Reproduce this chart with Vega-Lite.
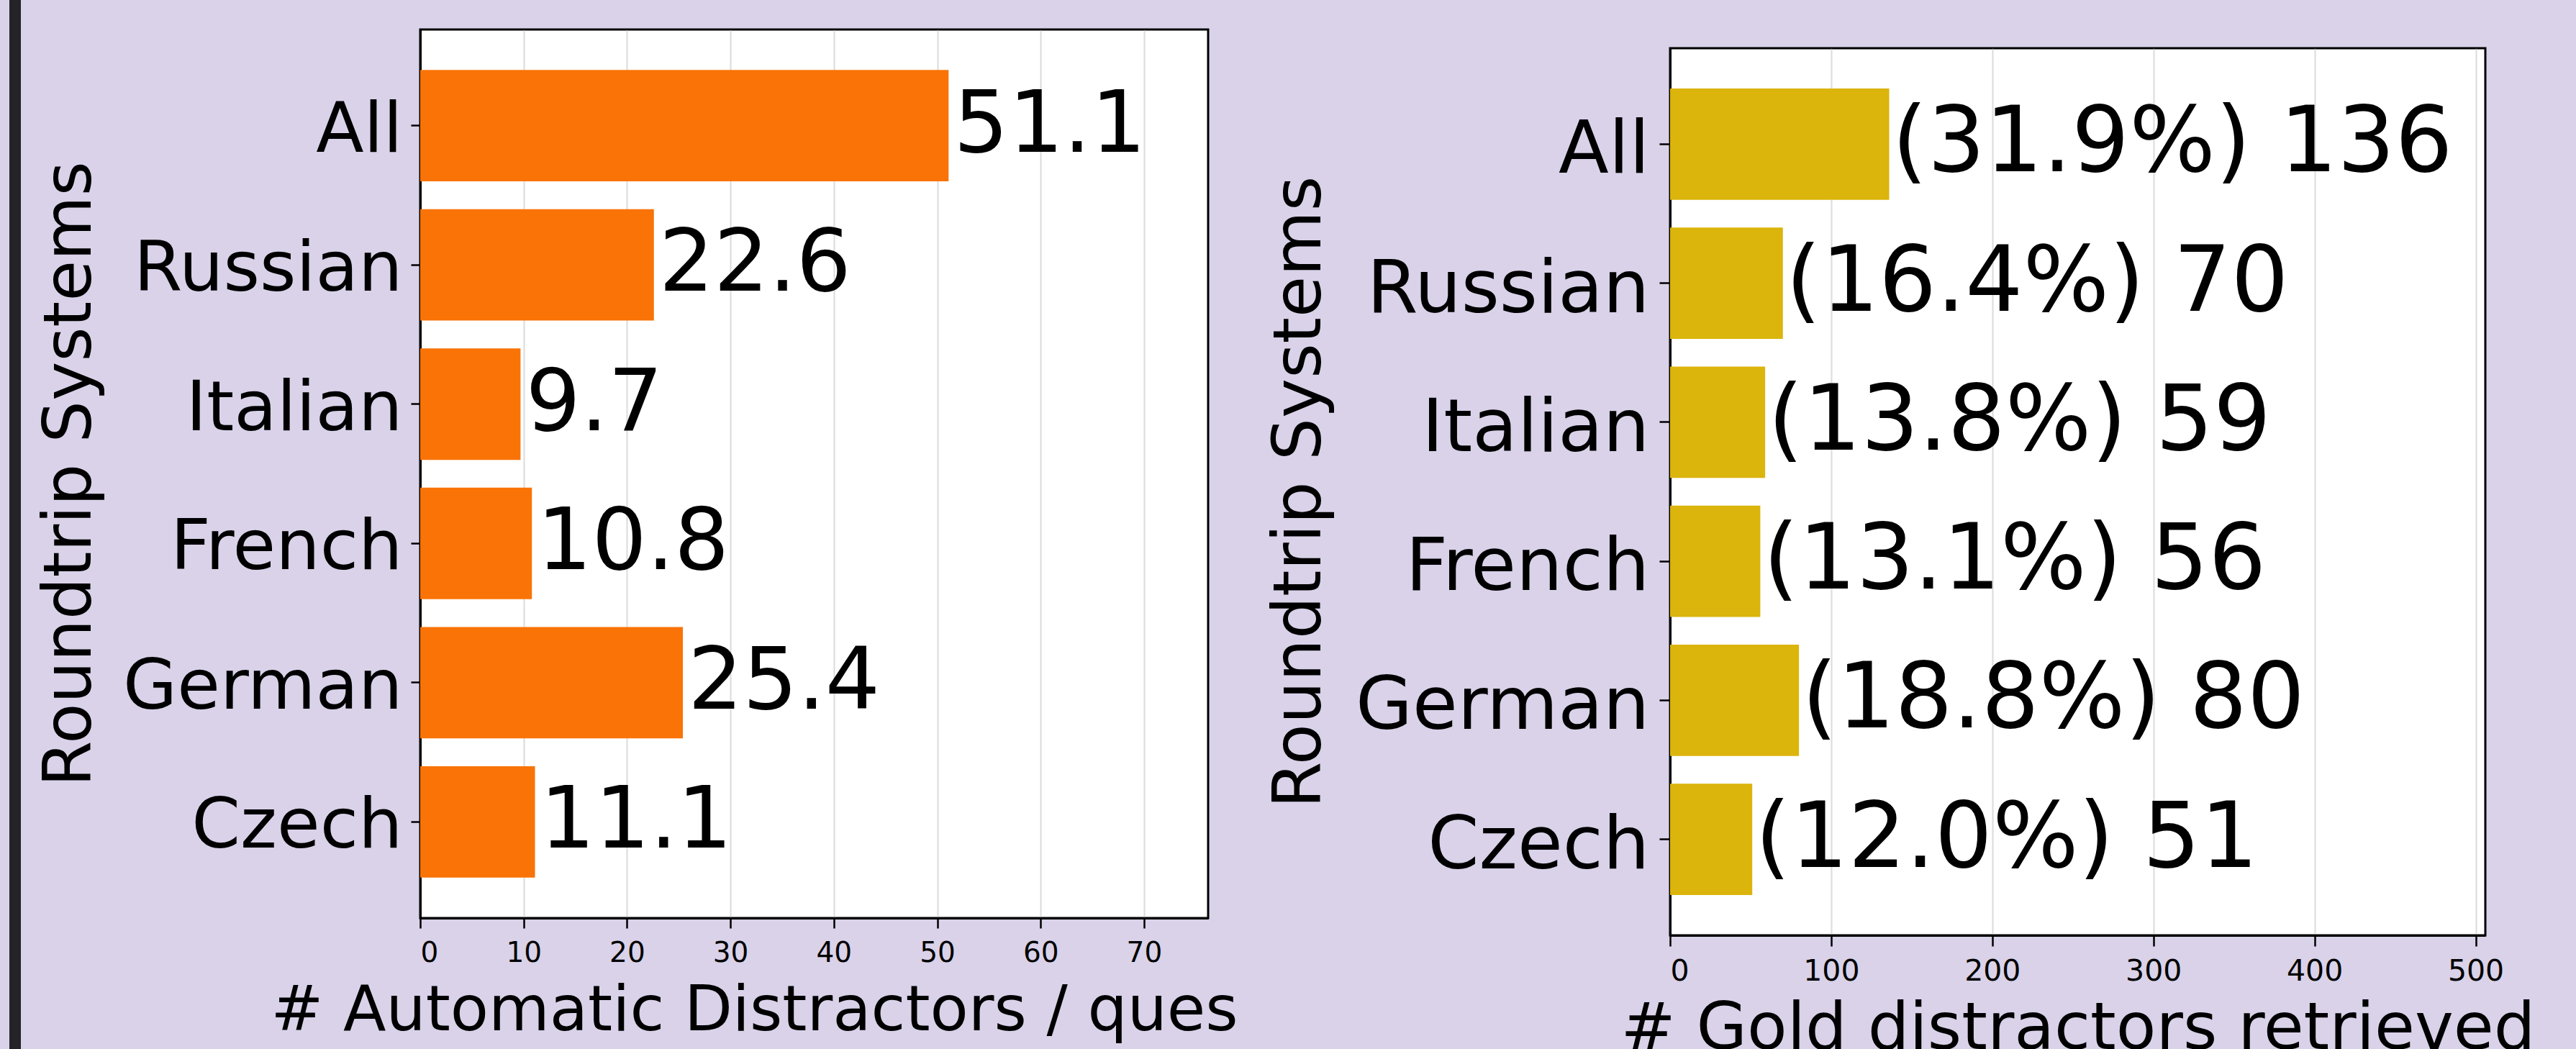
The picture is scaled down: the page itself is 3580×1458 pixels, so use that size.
{
  "$schema": "https://vega.github.io/schema/vega-lite/v6.json",
  "background": "#D9D2E9",
  "padding": {"left": 13, "top": 0, "right": 140, "bottom": 0},
  "spacing": 20,
  "config": {
    "font": "DejaVu Sans",
    "axis": {
      "labelFont": "DejaVu Sans",
      "titleFont": "DejaVu Sans",
      "labelColor": "black",
      "titleColor": "black",
      "titleFontWeight": "normal",
      "tickColor": "black",
      "tickWidth": 2.5,
      "domainColor": "black",
      "domainWidth": 3,
      "labelLimit": 2000,
      "titleLimit": 4000,
      "zindex": 1
    }
  },
  "datasets": {
    "systems": [
      {"system": "All", "auto": 51.1, "gold": 136, "label": "(31.9%) 136"},
      {"system": "Russian", "auto": 22.6, "gold": 70, "label": "(16.4%) 70"},
      {"system": "Italian", "auto": 9.7, "gold": 59, "label": "(13.8%) 59"},
      {"system": "French", "auto": 10.8, "gold": 56, "label": "(13.1%) 56"},
      {"system": "German", "auto": 25.4, "gold": 80, "label": "(18.8%) 80"},
      {"system": "Czech", "auto": 11.1, "gold": 51, "label": "(12.0%) 51"}
    ]
  },
  "hconcat": [
    {
      "width": 16,
      "height": 1458,
      "view": {"fill": "#232328", "stroke": null},
      "data": {"values": []},
      "mark": "point"
    },
    {
      "spacing": 0,
      "bounds": "flush",
      "vconcat": [
        {
          "width": 1154,
          "height": 41,
          "view": {"stroke": null},
          "data": {"values": []},
          "mark": "point"
        },
        {
          "width": 1095,
          "height": 1235,
          "data": {"name": "systems"},
          "view": {"fill": "white", "stroke": "black", "strokeWidth": 3},
          "encoding": {
            "y": {
              "field": "system",
              "type": "nominal",
              "sort": null,
              "scale": {"paddingInner": 0.2, "paddingOuter": 0.29},
              "axis": {
                "title": "Roundtrip Systems",
                "titleFontSize": 92,
                "titleX": -440,
                "titleBaseline": "bottom",
                "labelFontSize": 97,
                "labelPadding": 12,
                "labelOffset": 7,
                "tickSize": 13,
                "grid": false
              }
            }
          },
          "layer": [
            {
              "mark": {"type": "bar", "color": "#F97306"},
              "encoding": {
                "x": {
                  "field": "auto",
                  "type": "quantitative",
                  "scale": {"domain": [0, 76.2], "nice": false},
                  "axis": {
                    "values": [0, 10, 20, 30, 40, 50, 60, 70],
                    "title": "# Automatic Distractors / ques",
                    "titleFontSize": 87,
                    "titleAlign": "left",
                    "titleAnchor": "start",
                    "titleX": -208,
                    "titlePadding": 18,
                    "labelFontSize": 39,
                    "labelPadding": 15,
                    "tickSize": 14,
                    "grid": true,
                    "gridColor": "#b0b0b0",
                    "gridOpacity": 0.45,
                    "gridWidth": 2
                  }
                }
              }
            },
            {
              "mark": {"type": "text", "align": "left", "baseline": "middle", "dx": 7, "fontSize": 120, "color": "black"},
              "encoding": {
                "x": {"field": "auto", "type": "quantitative"},
                "text": {"field": "auto", "type": "quantitative", "format": ".1f"}
              }
            }
          ]
        }
      ]
    },
    {
      "spacing": 0,
      "bounds": "flush",
      "vconcat": [
        {
          "width": 1133,
          "height": 67,
          "view": {"stroke": null},
          "data": {"values": []},
          "mark": "point"
        },
        {
          "width": 1133,
          "height": 1233,
          "data": {"name": "systems"},
          "view": {"fill": "white", "stroke": "black", "strokeWidth": 3},
          "encoding": {
            "y": {
              "field": "system",
              "type": "nominal",
              "sort": null,
              "scale": {"paddingInner": 0.2, "paddingOuter": 0.29},
              "axis": {
                "title": "Roundtrip Systems",
                "titleFontSize": 93,
                "titleX": -467,
                "titleBaseline": "bottom",
                "labelFontSize": 102,
                "labelPadding": 14,
                "labelOffset": 9,
                "tickSize": 15,
                "grid": false
              }
            }
          },
          "layer": [
            {
              "mark": {"type": "bar", "color": "#DBB40C"},
              "encoding": {
                "x": {
                  "field": "gold",
                  "type": "quantitative",
                  "scale": {"domain": [0, 506], "nice": false},
                  "axis": {
                    "values": [0, 100, 200, 300, 400, 500],
                    "title": "# Gold distractors retrieved",
                    "titleFontSize": 91,
                    "titlePadding": 15,
                    "labelFontSize": 41,
                    "labelPadding": 15,
                    "tickSize": 15,
                    "grid": true,
                    "gridColor": "#b0b0b0",
                    "gridOpacity": 0.45,
                    "gridWidth": 2
                  }
                }
              }
            },
            {
              "mark": {"type": "text", "align": "left", "baseline": "middle", "dx": 4, "fontSize": 126, "color": "black"},
              "encoding": {
                "x": {"field": "gold", "type": "quantitative"},
                "text": {"field": "label", "type": "nominal"}
              }
            }
          ]
        }
      ]
    }
  ]
}
